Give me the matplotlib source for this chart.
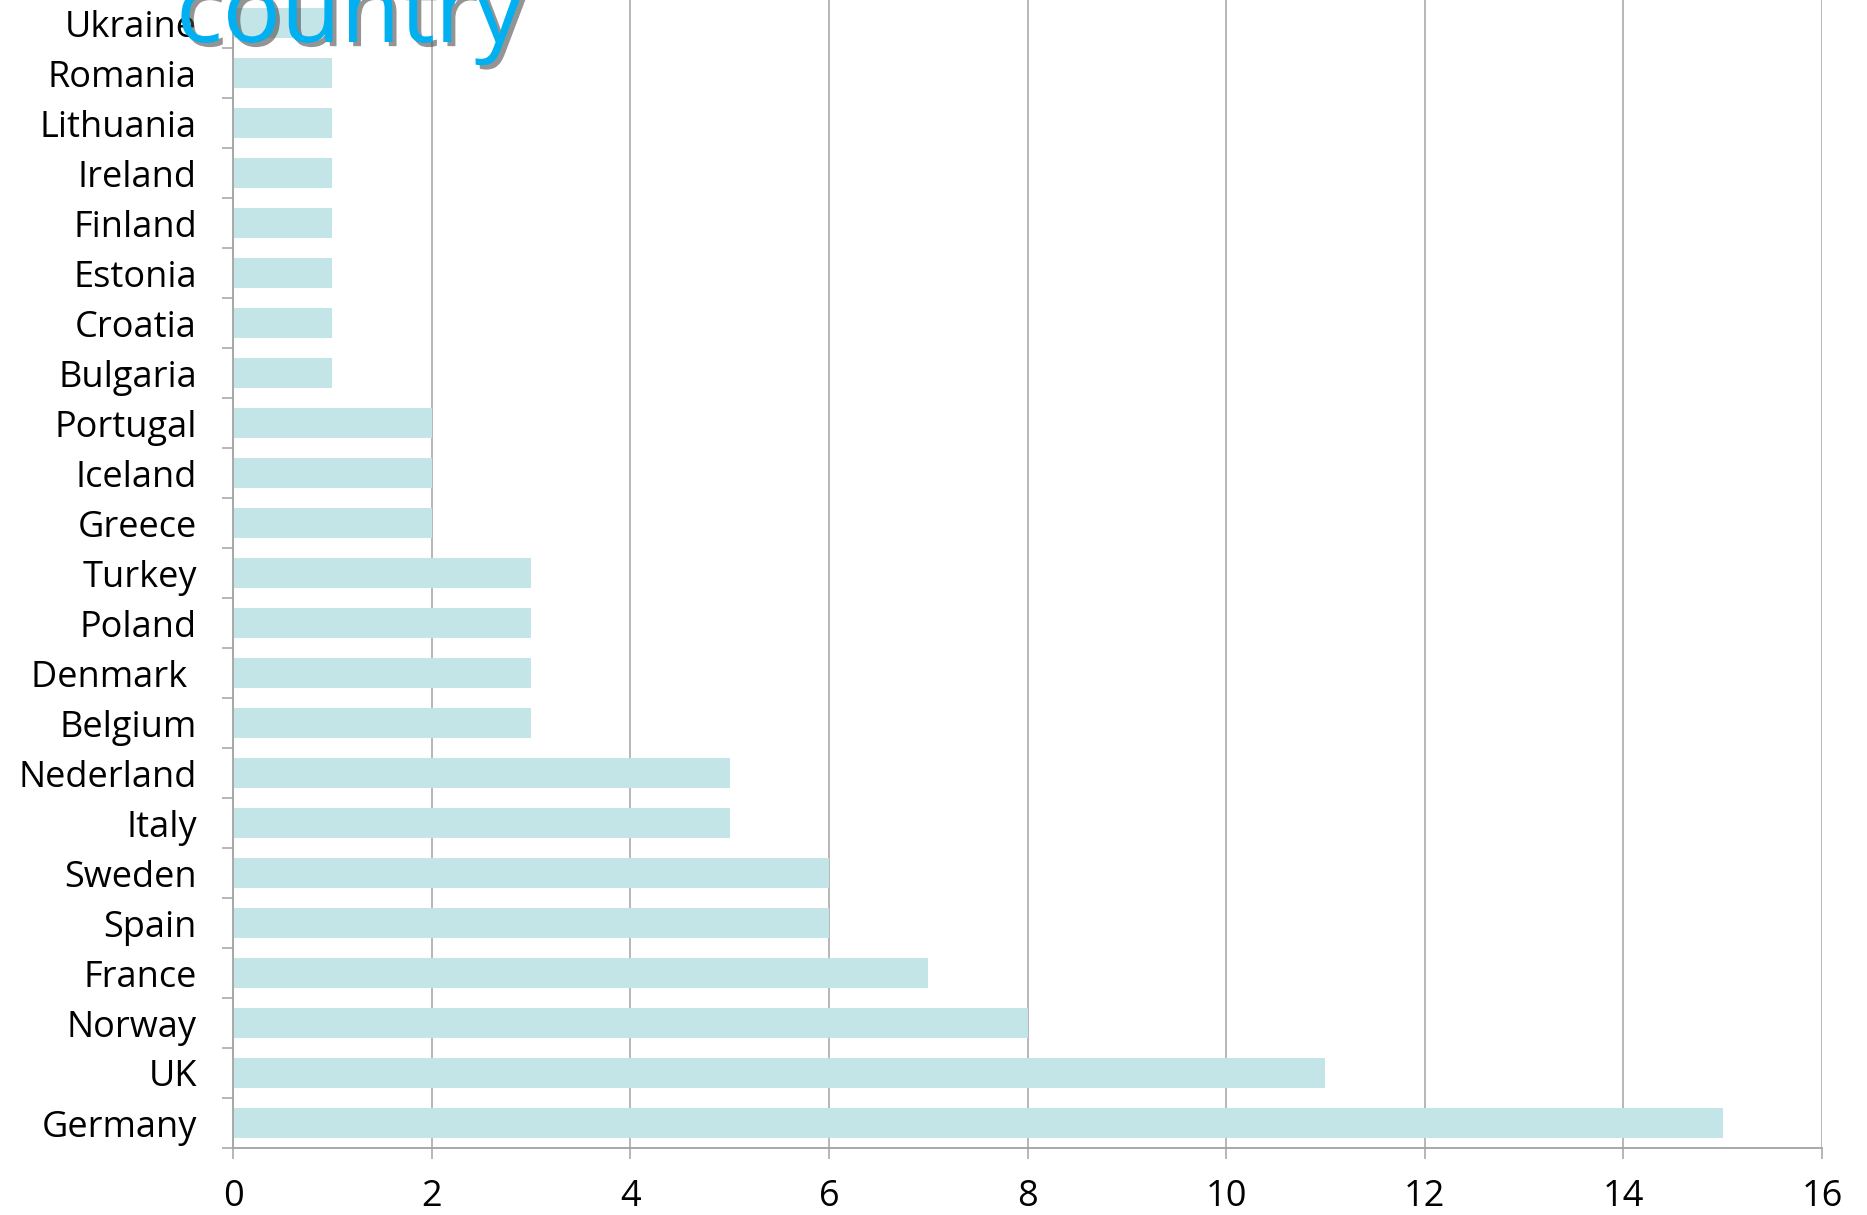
import matplotlib
matplotlib.use("Agg")
import matplotlib.pyplot as plt
import matplotlib.patheffects as pe
from matplotlib.ticker import FixedLocator

# Countries listed bottom-to-top as they appear on the axis
countries = ["Germany", "UK", "Norway", "France", "Spain", "Sweden", "Italy",
             "Nederland", "Belgium", "Denmark ", "Poland", "Turkey", "Greece",
             "Iceland", "Portugal", "Bulgaria", "Croatia", "Estonia", "Finland",
             "Ireland", "Lithuania", "Romania", "Ukraine"]
counts = [15, 11, 8, 7, 6, 6, 5, 5, 3, 3, 3, 3, 2, 2, 2, 1, 1, 1, 1, 1, 1, 1, 1]
x_ticks = [0, 2, 4, 6, 8, 10, 12, 14, 16]
title_text = "country"

W, H, DPI = 1867, 1215, 100
plt.rcParams["font.family"] = ["Open Sans", "DejaVu Sans"]

fig = plt.figure(figsize=(W / DPI, H / DPI), dpi=DPI)
left, right, bottom, top = 233 / W, 1822 / W, 1 - 1148 / H, 1 + 2 / H
ax = fig.add_axes([left, bottom, right - left, top - bottom])

grid_c = "#a3a3a3"
pos = list(range(len(countries)))
ax.barh(pos, counts, height=0.6, color="#c4e5e8", zorder=2)

ax.set_xlim(x_ticks[0], x_ticks[-1])
ax.set_ylim(-0.5, len(countries) - 0.5)
ax.xaxis.set_major_locator(FixedLocator(x_ticks))
ax.set_xticklabels([str(t) for t in x_ticks])
ax.grid(axis="x", color=grid_c, linewidth=1.1, zorder=1)
ax.set_axisbelow(True)

ax.set_yticks(pos)
ax.set_yticklabels(countries)
ax.yaxis.set_minor_locator(FixedLocator([p - 0.5 for p in pos] + [len(countries) - 0.5]))

for s in ["top", "right"]:
    ax.spines[s].set_visible(False)
for s in ["left", "bottom"]:
    ax.spines[s].set_color(grid_c)
    ax.spines[s].set_linewidth(1.3)

ax.tick_params(axis="y", which="major", length=0, pad=26, labelsize=26, labelcolor="black")
ax.tick_params(axis="y", which="minor", length=8, width=1.1, color=grid_c, direction="out")
ax.tick_params(axis="x", which="major", length=8, width=1.1, color=grid_c, direction="out",
               pad=14, labelsize=26, labelcolor="black")

# Large title partly running off the top edge, with soft drop shadow
fig.text(176 / W, 1 - 42 / H, title_text, fontsize=70, color="#00b0f0",
         ha="left", va="baseline", zorder=10,
         path_effects=[pe.withSimplePatchShadow(offset=(3, -3), shadow_rgbFace="0.3",
                                                alpha=0.6)])

fig.savefig("out.png", dpi=DPI, facecolor="white")
